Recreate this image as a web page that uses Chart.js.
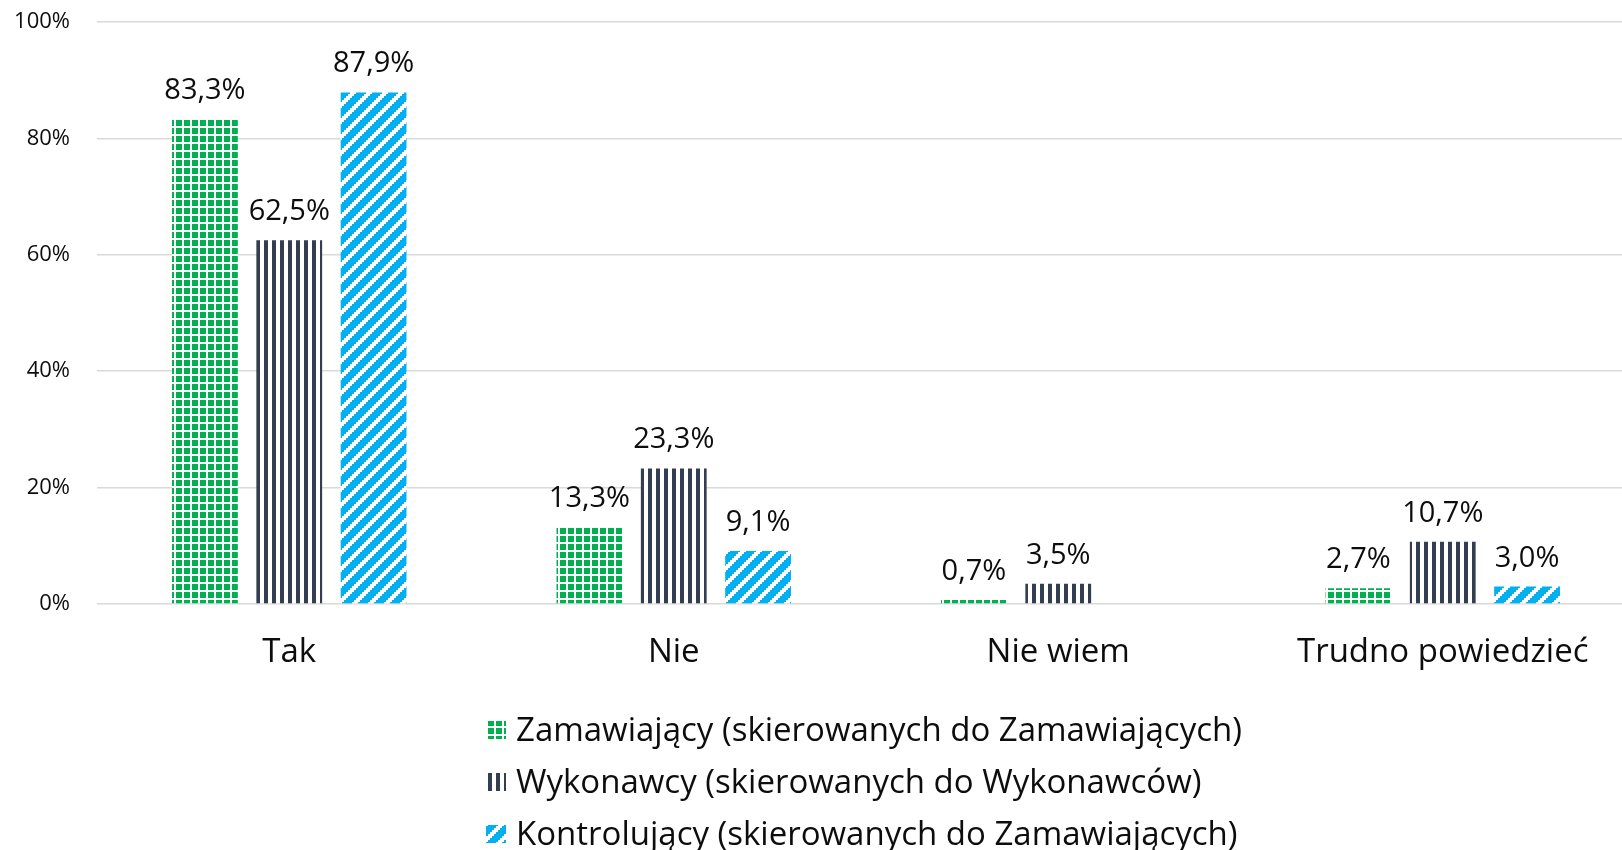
<!DOCTYPE html>
<html>
<head>
<meta charset="utf-8">
<script src="https://cdn.jsdelivr.net/npm/chart.js@4/dist/chart.umd.min.js"></script>
<style>
  body { margin: 0; overflow: hidden; background: #fff; }
  #wrap { width: 1640px; height: 850px; }
</style>
</head>
<body>
<div id="wrap"><canvas id="chart"></canvas></div>
<script>
// data
const categories = ['Tak', 'Nie', 'Nie wiem', 'Trudno powiedzieć'];
const seriesNames = [
  'Zamawiający (skierowanych do Zamawiających)',
  'Wykonawcy (skierowanych do Wykonawców)',
  'Kontrolujący (skierowanych do Zamawiających)'
];
const zamawiajacy = [83.3, 13.3, 0.7, 2.7];
const wykonawcy = [62.5, 23.3, 3.5, 10.7];
const kontrolujacy = [87.9, 9.1, null, 3.0];
const yTicks = [0, 20, 40, 60, 80, 100];

const FONT = "'Open Sans', sans-serif";
const TEXT = '#0d0d0d';

// excel-like pattern fills
function makePattern(size, draw) {
  const c = document.createElement('canvas');
  c.width = size; c.height = size;
  const g = c.getContext('2d');
  draw(g);
  return document.getElementById('chart').getContext('2d').createPattern(c, 'repeat');
}

const greenGrid = makePattern(8, g => {
  g.fillStyle = '#00B050';
  g.fillRect(0, 0, 8, 8);
  g.fillStyle = '#fff';
  g.fillRect(6, 0, 2, 8);
  g.fillRect(0, 6, 8, 2);
});

const darkStripes = makePattern(8, g => {
  g.fillStyle = '#fff';
  g.fillRect(0, 0, 8, 8);
  g.fillStyle = '#333F50';
  g.fillRect(0, 0, 4, 8);
});

// wide upward diagonal, drawn in 2px steps
const blueDiag = makePattern(16, g => {
  g.fillStyle = '#fff';
  g.fillRect(0, 0, 16, 16);
  g.fillStyle = '#00B0F0';
  for (let x = 0; x < 8; x++) {
    for (let y = 0; y < 8; y++) {
      if ((x + y) % 8 < 5) g.fillRect(x * 2, y * 2, 2, 2);
    }
  }
});

const fills = [greenGrid, darkStripes, blueDiag];

// value labels above the bars
const valueLabels = {
  id: 'valueLabels',
  afterDatasetsDraw(chart) {
    const ctx = chart.ctx;
    ctx.save();
    ctx.font = '29px ' + FONT;
    ctx.fillStyle = TEXT;
    ctx.textAlign = 'center';
    ctx.textBaseline = 'alphabetic';
    chart.data.datasets.forEach((ds, i) => {
      chart.getDatasetMeta(i).data.forEach((bar, j) => {
        const v = ds.data[j];
        if (v == null) return;
        ctx.fillText(v.toFixed(1).replace('.', ',') + '%', bar.x, bar.y - 20);
      });
    });
    ctx.restore();
  }
};

// stacked legend, left aligned like the original
const stackedLegend = {
  id: 'stackedLegend',
  afterDraw(chart) {
    const ctx = chart.ctx;
    ctx.save();
    ctx.font = '33px ' + FONT;
    ctx.textBaseline = 'alphabetic';
    seriesNames.forEach((name, i) => {
      const base = 741 + i * 52;
      ctx.fillStyle = fills[i];
      ctx.fillRect(486, base - 20, 20, 18);
      ctx.fillStyle = TEXT;
      ctx.fillText(name, 516, base);
    });
    ctx.restore();
  }
};

function createChart() {
  const ctx = document.getElementById('chart').getContext('2d');
  new Chart(ctx, {
    type: 'bar',
    data: {
      labels: categories,
      datasets: [zamawiajacy, wykonawcy, kontrolujacy].map((d, i) => ({
        label: seriesNames[i],
        data: d,
        backgroundColor: fills[i],
        borderWidth: 0,
        barPercentage: 0.78,
        categoryPercentage: 0.658
      }))
    },
    options: {
      animation: false,
      responsive: true,
      maintainAspectRatio: false,
      layout: { padding: { top: 22, right: 5, left: 0, bottom: 0 } },
      plugins: {
        legend: { display: false },
        tooltip: { enabled: false }
      },
      scales: {
        x: {
          grid: { display: false, drawTicks: false },
          border: { display: false },
          ticks: { font: { family: FONT, size: 33 }, color: TEXT, padding: 29 },
          afterFit(scale) { scale.height = 246; }
        },
        y: {
          min: 0,
          max: 100,
          // invisible tick marks give the label gap without extra top padding
          grid: { color: '#d9d9d9', lineWidth: 1.5, drawTicks: true, tickLength: 27, tickColor: 'rgba(0,0,0,0)' },
          border: { display: false },
          ticks: {
            font: { family: FONT, size: 22 },
            color: TEXT,
            padding: 0,
            callback: v => v + '%'
          },
          afterBuildTicks(scale) { scale.ticks = yTicks.map(v => ({ value: v })); },
          afterFit(scale) { scale.width = 97; }
        }
      }
    },
    plugins: [valueLabels, stackedLegend]
  });
}

document.fonts.load('26px "Open Sans"').then(createChart, createChart);
</script>
</body>
</html>
